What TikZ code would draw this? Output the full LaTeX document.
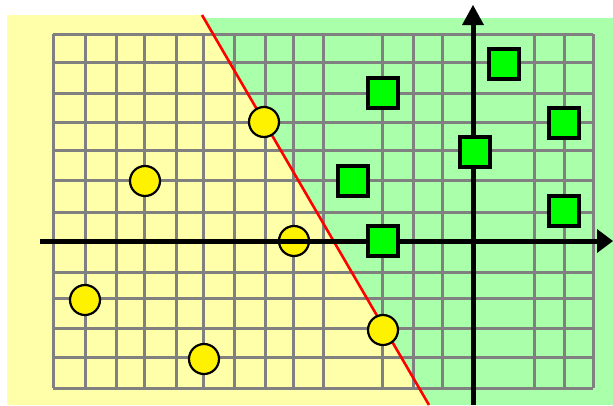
\documentclass[tikz,border=0pt]{standalone}
\begin{document}
\begin{tikzpicture}[x=1pt,y=-1pt,
  gridline/.style={draw=gray!100,line width=3pt},
  axisline/.style={draw=black,line width=5pt},
  dot/.style={circle,draw=black,line width=2.2pt,fill=yellow,minimum size=30pt,inner sep=0pt},
  sq/.style={rectangle,draw=black,line width=3.2pt,fill=green,minimum size=30pt,inner sep=0pt},
  sepline/.style={draw=red,line width=2.6pt}]
\definecolor{paleY}{RGB}{255,255,170}
\definecolor{paleG}{RGB}{170,255,170}
\definecolor{gray}{RGB}{128,128,128}
\useasboundingbox (0,0) rectangle (613,405);
% regions
\fill[paleY] (7,15) -- (202,15) -- (429,405) -- (7,405) -- cycle;
\fill[paleG] (203.7,18) -- (613,18) -- (613,405) -- (429,405) -- cycle;
% grid
\foreach \x in {53,85,116,144,176,203,234,265,293,323,382,413,442,473,534,564,593}
  \draw[gridline] (\x,34) -- (\x,388);
\foreach \y in {34,62,93,122,150,180,212,240,272,298,328,357,388}
  \draw[gridline] (53,\y) -- (593,\y);
% separating line
\coordinate (s1) at (202,15);
\coordinate (s2) at (429,405);
\draw[sepline] (s1) -- (s2);
% yellow circles
\node[dot] (c1) at (264,122) {};
\node[dot] (c2) at (145,181) {};
\node[dot] (c3) at (294,241) {};
\node[dot] (c4) at (85,300) {};
\node[dot] (c5) at (204,359) {};
\node[dot] (c6) at (383,330) {};
% axes
\coordinate (xa) at (40,241);
\coordinate (xb) at (598,241);
\coordinate (ya) at (473,405);
\coordinate (yb) at (473,24);
\draw[axisline] (xa) -- (xb);
\draw[axisline] (ya) -- (yb);
\fill[black] (597,229) -- (613,241) -- (597,253) -- cycle;
\fill[black] (462,25) -- (473,5) -- (484,25) -- cycle;
% green squares
\node[sq] (q1) at (504,64) {};
\node[sq] (q2) at (383,93) {};
\node[sq] (q3) at (564,123) {};
\node[sq] (q4) at (475,152) {};
\node[sq] (q5) at (353,181) {};
\node[sq] (q6) at (564,211) {};
\node[sq] (q7) at (383,241) {};
\end{tikzpicture}
\end{document}
